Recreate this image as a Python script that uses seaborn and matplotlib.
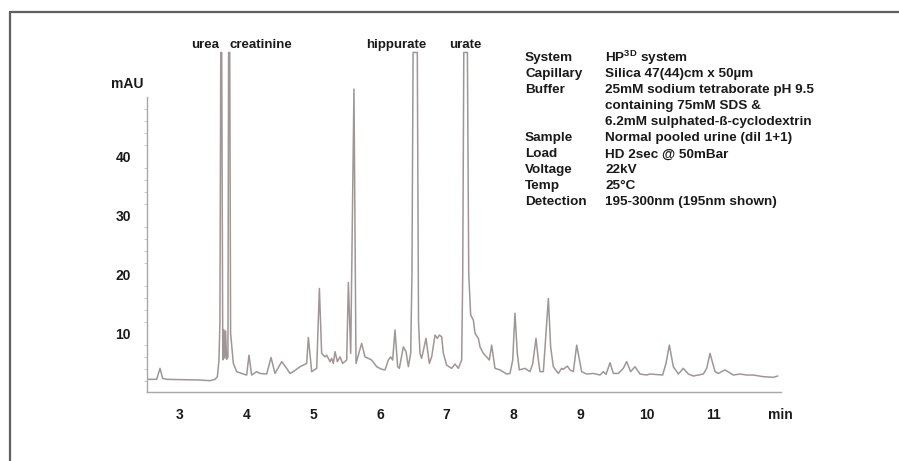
import matplotlib
matplotlib.use("Agg")
import matplotlib.pyplot as plt
from matplotlib.lines import Line2D
from matplotlib.ticker import FixedLocator
import seaborn as sns
import pandas as pd

# electropherogram trace (time in min, absorbance in mAU)
# off-scale peaks are held at the top of the plot (57.6)
time_min = [
    2.524, 2.658, 2.708, 2.748, 2.808, 3.307, 3.457, 3.532, 3.567, 3.591,
    3.605, 3.618, 3.632, 3.648, 3.665, 3.678, 3.690, 3.705, 3.725, 3.735,
    3.752, 3.765, 3.806, 3.856, 3.956, 4.006, 4.040, 4.080, 4.155, 4.205,
    4.305, 4.370, 4.430, 4.530, 4.604, 4.654, 4.704, 4.804, 4.904, 4.929,
    4.979, 5.054, 5.094, 5.128, 5.178, 5.203, 5.253, 5.278, 5.303, 5.328,
    5.363, 5.403, 5.443, 5.503, 5.528, 5.563, 5.612, 5.642, 5.727, 5.777,
    5.827, 5.877, 5.952, 6.027, 6.077, 6.126, 6.161, 6.191, 6.226, 6.266,
    6.291, 6.351, 6.391, 6.426, 6.461, 6.480, 6.497, 6.560, 6.578, 6.600,
    6.625, 6.690, 6.740, 6.775, 6.825, 6.860, 6.890, 6.925, 6.950, 7.000,
    7.075, 7.124, 7.174, 7.224, 7.240, 7.256, 7.310, 7.330, 7.359, 7.399,
    7.424, 7.474, 7.499, 7.548, 7.598, 7.638, 7.673, 7.723, 7.798, 7.898,
    7.948, 7.988, 8.022, 8.057, 8.087, 8.172, 8.247, 8.287, 8.337, 8.372,
    8.397, 8.447, 8.522, 8.556, 8.596, 8.671, 8.721, 8.746, 8.806, 8.846,
    8.896, 8.946, 9.020, 9.095, 9.195, 9.295, 9.345, 9.385, 9.445, 9.495,
    9.569, 9.644, 9.694, 9.754, 9.819, 9.894, 9.994, 10.043, 10.233, 10.283,
    10.333, 10.393, 10.468, 10.542, 10.617, 10.692, 10.842, 10.892, 10.942, 11.017,
    11.066, 11.166, 11.291, 11.391, 11.490, 11.590, 11.740, 11.890, 11.955,
]
absorbance_mau = [
    2.2, 2.2, 4.06, 2.36, 2.2, 2.08, 1.97, 2.2, 2.65, 5.47,
    12.0, 57.6, 57.6, 5.5, 10.6, 5.8, 10.4, 5.6, 6.0, 57.6,
    57.6, 10.0, 4.9, 3.5, 3.1, 2.93, 6.3, 2.93, 3.5, 3.2,
    3.1, 5.9, 3.2, 5.2, 4.06, 3.2, 3.5, 4.34, 4.9, 9.3,
    3.5, 4.06, 17.6, 6.6, 6.0, 6.3, 5.2, 5.75, 4.9, 6.9,
    5.2, 6.0, 4.9, 5.47, 18.6, 6.6, 51.4, 4.9, 8.3, 6.0,
    5.75, 5.47, 4.34, 3.9, 3.8, 5.47, 6.0, 5.47, 10.56, 4.34,
    4.06, 7.7, 6.9, 4.34, 6.6, 20.0, 57.6, 57.6, 12.0, 6.6,
    5.75, 9.14, 4.9, 6.0, 9.7, 9.14, 9.7, 9.4, 6.6, 4.6,
    4.06, 4.8, 4.06, 5.47, 20.0, 57.6, 57.6, 20.0, 13.1, 12.25,
    10.0, 9.14, 7.7, 6.6, 6.0, 5.47, 8.0, 4.06, 3.8, 3.1,
    3.2, 5.47, 13.4, 6.6, 3.8, 4.06, 3.5, 4.8, 9.14, 5.47,
    3.5, 3.5, 15.9, 7.7, 4.34, 3.2, 4.06, 3.9, 4.45, 3.8,
    3.5, 8.0, 3.5, 3.1, 3.2, 2.93, 3.5, 3.04, 5.02, 3.2,
    3.2, 4.06, 5.2, 3.5, 4.34, 3.1, 2.93, 3.1, 2.93, 4.9,
    8.0, 4.34, 3.1, 4.06, 3.1, 2.76, 3.1, 4.06, 6.6, 3.5,
    3.2, 3.8, 2.93, 3.1, 2.93, 2.93, 2.65, 2.54, 2.76,
]

peak_names = ["urea", "creatinine", "hippurate", "urate"]
peak_label_x = [3.591, 3.745, 6.252, 7.274]
peak_label_ha = ["right", "left", "center", "center"]

x_ticks = [3, 4, 5, 6, 7, 8, 9, 10, 11, 12]
x_tick_labels = ["3", "4", "5", "6", "7", "8", "9", "10", "11", "min"]
y_ticks = [10, 20, 30, 40]
y_minor_ticks = [2, 4, 6, 8, 12, 14, 16, 18, 22, 24, 26, 28,
                 32, 34, 36, 38, 42, 44, 46, 48]

info_keys = ["System", "Capillary", "Buffer", "", "", "Sample", "Load",
             "Voltage", "Temp", "Detection"]
info_values = [
    r"HP$^{\mathrm{3D}}$ system",
    "Silica 47(44)cm x 50µm",
    "25mM sodium tetraborate pH 9.5",
    "containing 75mM SDS &",
    "6.2mM sulphated-ß-cyclodextrin",
    "Normal pooled urine (dil 1+1)",
    "HD 2sec @ 50mBar",
    "22kV",
    "25°C",
    "195-300nm (195nm shown)",
]

sns.set_style("white")
plt.rcParams["font.family"] = ["Liberation Sans", "DejaVu Sans"]
plt.rcParams["font.weight"] = "bold"
plt.rcParams["mathtext.fontset"] = "custom"
plt.rcParams["mathtext.rm"] = "Liberation Sans:bold"
plt.rcParams["mathtext.bf"] = "Liberation Sans:bold"

trace = pd.DataFrame({"time": time_min, "mAU": absorbance_mau})

fig = plt.figure(figsize=(8.99, 4.61), dpi=100)
ax = fig.add_axes([0.164, 0.149, 0.7044, 0.7423])

sns.lineplot(data=trace, x="time", y="mAU", ax=ax, color="#a09696",
             linewidth=1.1, estimator=None, sort=False)

ax.set_xlim(2.52, 12.0)
ax.set_ylim(0, 58)
ax.set_xlabel("")
ax.set_ylabel("")

ax.set_xticks(x_ticks)
ax.set_xticklabels(x_tick_labels)
ax.set_yticks(y_ticks)
ax.yaxis.set_minor_locator(FixedLocator(y_minor_ticks))

for side in ["top", "right"]:
    ax.spines[side].set_visible(False)
for side in ["left", "bottom"]:
    ax.spines[side].set_color("#a8a8a8")
    ax.spines[side].set_linewidth(1.0)
ax.spines["left"].set_bounds(0, 50)
ax.spines["bottom"].set_bounds(2.52, 12.0)

ax.tick_params(axis="x", which="major", direction="out", length=7, width=0.9,
               color="#a8a8a8", pad=4, labelsize=10, labelcolor="#1a1a1a")
ax.tick_params(axis="y", which="major", direction="out", length=3, width=0.9,
               color="#b0b0b0", pad=9, labelsize=10, labelcolor="#1a1a1a")
ax.tick_params(axis="y", which="minor", direction="out", length=2, width=0.6,
               color="#c0c0c0", left=True)
for lab in ax.get_xticklabels() + ax.get_yticklabels():
    lab.set_fontweight("bold")

# peak names above the clipped peaks
for name, xpos, ha in zip(peak_names, peak_label_x, peak_label_ha):
    ax.text(xpos, 58.9, name, ha=ha, va="center", fontsize=9.5,
            fontweight="bold", color="#1a1a1a", clip_on=False)

ax.text(2.222, 52.25, "mAU", ha="center", va="center", fontsize=10,
        fontweight="bold", color="#1a1a1a", clip_on=False)

# method table
for i, (k, v) in enumerate(zip(info_keys, info_values)):
    y = 1 - (58.3 + 16 * i) / 461
    if k:
        fig.text(525 / 899, y, k, ha="left", va="center", fontsize=9.7,
                 fontweight="bold", color="#1a1a1a")
    fig.text(605 / 899, y, v, ha="left", va="center", fontsize=9.7,
             fontweight="bold", color="#1a1a1a")

# page frame (top and left edges)
fig.add_artist(Line2D([10 / 899, 1.0], [1 - 12 / 461, 1 - 12 / 461],
                      transform=fig.transFigure, color="#606060", linewidth=1.6))
fig.add_artist(Line2D([10 / 899, 10 / 899], [0.0, 1 - 12 / 461],
                      transform=fig.transFigure, color="#606060", linewidth=1.6))

fig.savefig("out.png", dpi=100)
